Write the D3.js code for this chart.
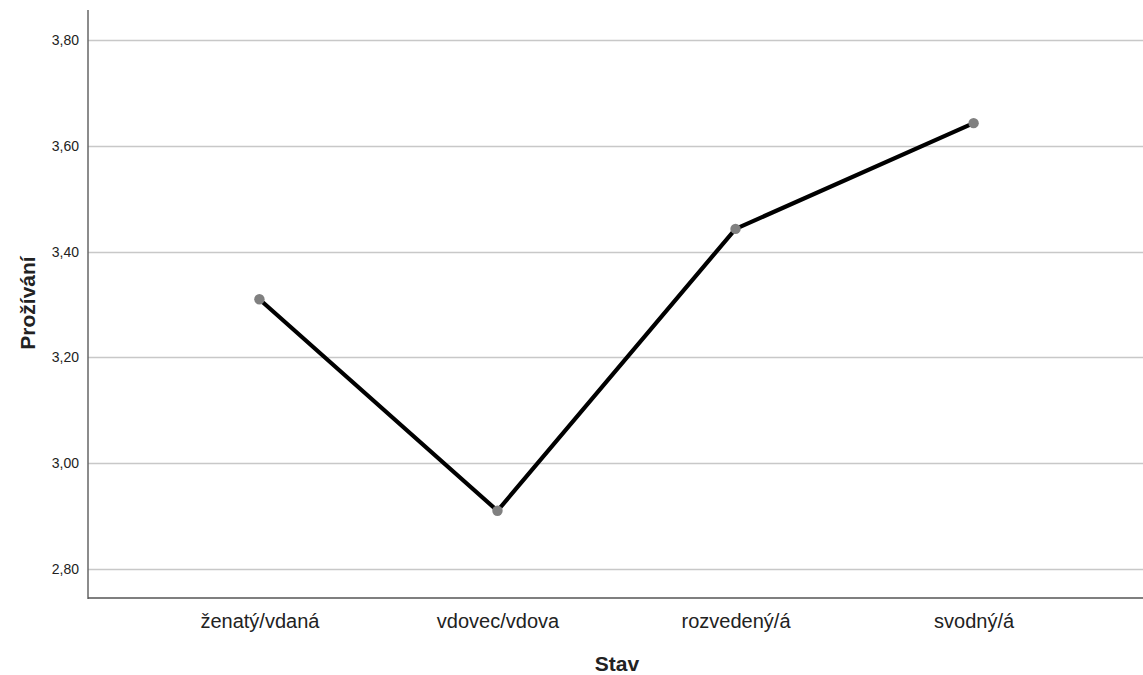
<!DOCTYPE html>
<html><head><meta charset="utf-8">
<script src="https://cdn.jsdelivr.net/npm/d3@7"></script>
<style>body{margin:0;background:#fff}svg{display:block;font-family:"Liberation Sans",Arial,sans-serif}</style>
</head><body><svg id="c" width="1143" height="675"></svg>
<script>
const categories = ["ženatý/vdaná","vdovec/vdova","rozvedený/á","svodný/á"];
const values = [3.310, 2.910, 3.443, 3.643];
const yTicks = [2.80, 3.00, 3.20, 3.40, 3.60, 3.80];
const xTitle = "Stav";
const yTitle = "Prožívání";

(function(){
const svg = d3.select("#c");
const mLeft = 88, mRight = 1145, mTop = 10, mBottom = 598;
const x = d3.scalePoint().domain(categories).range([mLeft, mRight]).padding(0.72);
const y = d3.scaleLinear().domain([2.745, 3.857]).range([mBottom, mTop]);

svg.append("g").selectAll("line").data(yTicks).join("line")
  .attr("x1", mLeft).attr("x2", 1143).attr("y1", d=>Math.round(y(d))+0.5).attr("y2", d=>Math.round(y(d))+0.5)
  .attr("stroke", "#c8c8c8").attr("stroke-width", 1.5);

const yAxis = svg.append("g").attr("transform", `translate(${mLeft},0)`)
  .call(d3.axisLeft(y).tickValues(yTicks).tickSize(0).tickPadding(9).tickFormat(d=>d3.format(".2f")(d).replace(".",",")));
yAxis.select(".domain").remove();
yAxis.selectAll("text").attr("font-size", 14).attr("fill", "#222").style("font-family","Liberation Sans, Arial, sans-serif");

const xAxis = svg.append("g").attr("transform", `translate(0,${mBottom})`)
  .call(d3.axisBottom(x).tickSize(0).tickPadding(16));
xAxis.select(".domain").remove();
xAxis.selectAll("text").attr("font-size", 20).attr("fill", "#222").style("font-family","Liberation Sans, Arial, sans-serif");

svg.append("line").attr("x1", mLeft).attr("x2", mLeft).attr("y1", mTop).attr("y2", mBottom+1)
  .attr("stroke", "#666").attr("stroke-width", 1.5);
svg.append("line").attr("x1", mLeft).attr("x2", 1143).attr("y1", mBottom).attr("y2", mBottom)
  .attr("stroke", "#555").attr("stroke-width", 1.5);

const pts = categories.map((c,i)=>({c, v: values[i]}));
svg.append("path").datum(pts)
  .attr("d", d3.line().x(d=>x(d.c)).y(d=>y(d.v)))
  .attr("fill", "none").attr("stroke", "#000").attr("stroke-width", 4.2);
svg.append("g").selectAll("circle").data(pts).join("circle")
  .attr("cx", d=>x(d.c)).attr("cy", d=>y(d.v)).attr("r", 5.2).attr("fill", "#808080");

svg.append("text").attr("x", 617).attr("y", 671).attr("text-anchor","middle")
  .attr("font-size", 21).attr("font-weight","bold").attr("fill","#222").text(xTitle);
svg.append("text").attr("transform", `translate(35,303) rotate(-90)`).attr("text-anchor","middle")
  .attr("font-size", 21).attr("font-weight","bold").attr("fill","#222").text(yTitle);
})();
</script></body></html>
